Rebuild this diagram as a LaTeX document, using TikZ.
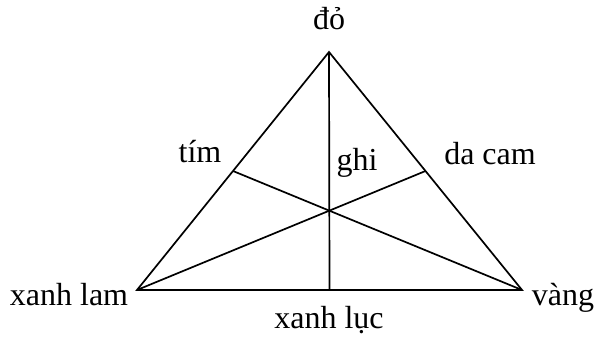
\documentclass[tikz,border=0pt]{standalone}
\usepackage{fontspec}
\setmainfont{Liberation Serif}
\usetikzlibrary{calc}
\begin{document}
\begin{tikzpicture}[x=1pt,y=-1pt,
  edge/.style={line width=1.7pt,line join=miter},
  lbl/.style={anchor=base,inner sep=0pt,font=\fontsize{32}{38}\selectfont}]
\useasboundingbox (0,0) rectangle (602,339);
\coordinate (R) at (329,52);
\coordinate (B) at (137,290);
\coordinate (Y) at (522,290);
\coordinate (P) at ($ (R)!0.5!(B) $);
\coordinate (O) at ($ (R)!0.5!(Y) $);
\coordinate (G) at ($ (B)!0.5!(Y) $);
\draw[edge] (R) -- (B) -- (Y) -- cycle;
\draw[edge] (R) -- (G);
\draw[edge] (B) -- (O);
\draw[edge] (Y) -- (P);
\node[lbl] (tr) at (329,30) {đỏ};
\node[lbl] (tp) at (200,163) {tím};
\node[lbl] (tg) at (357,171) {ghi};
\node[lbl] (to) at (490,165) {da cam};
\node[lbl] (tb) at (69,305) {xanh lam};
\node[lbl] (ty) at (563,305) {vàng};
\node[lbl] (tgr) at (329,328) {xanh lục};
\end{tikzpicture}
\end{document}
